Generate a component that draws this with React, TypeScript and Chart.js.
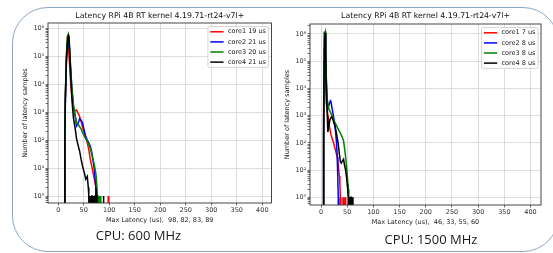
import React, { useEffect, useRef } from "react";
import { Chart, registerables } from "chart.js";

Chart.register(...registerables);

const FONT_FAMILY = "'DejaVu Sans', sans-serif";
const CHART_TITLE = "Latency RPi 4B RT kernel 4.19.71-rt24-v7l+";
const Y_TITLE = "Number of latency samples";
const X_TICKS = [0, 50, 100, 150, 200, 250, 300, 350, 400];
const SUPERSCRIPTS = ["⁰", "¹", "²", "³", "⁴", "⁵", "⁶", "⁷"];
const CORE_COLORS = ["#ff0000", "#0000ff", "#008000", "#000000"];

// ---------- CPU 600 MHz ----------
const LAT_600_CORE1 = [12, 13, 14, 16, 18, 19, 20, 22, 24, 26, 28, 30, 33, 36, 39, 42, 45, 48, 51, 54, 57, 60, 63, 66, 69, 72, 74, 75, 76, 77, 78, 79, 97, 98, 99];
const CNT_600_CORE1 = [0, 150, 3000, 80000, 400000, 350000, 220000, 60000, 15000, 5000, 2200, 1300, 1100, 1200, 900, 700, 450, 280, 180, 130, 80, 45, 20, 11, 6, 3, 2, 1, 1, 0, 1, 0, 0, 1, 0];

const LAT_600_CORE2 = [12, 13, 14, 16, 18, 20, 21, 22, 24, 26, 28, 30, 33, 36, 39, 42, 45, 48, 51, 54, 57, 60, 63, 66, 69, 71, 73, 74, 75, 76, 81, 82, 83];
const CNT_600_CORE2 = [0, 100, 2000, 50000, 200000, 300000, 300000, 200000, 50000, 12000, 4000, 1500, 800, 320, 400, 580, 520, 400, 220, 130, 100, 80, 60, 35, 15, 8, 3, 2, 1, 0, 0, 1, 0];

const LAT_600_CORE3 = [12, 13, 14, 16, 18, 20, 22, 24, 26, 28, 30, 33, 36, 39, 42, 45, 48, 51, 54, 57, 60, 63, 66, 69, 72, 74, 76, 77, 78, 79, 82, 83, 84];
const CNT_600_CORE3 = [0, 120, 4000, 100000, 500000, 620000, 250000, 50000, 12000, 4000, 1800, 800, 420, 360, 300, 250, 180, 140, 110, 90, 70, 50, 30, 18, 10, 6, 2, 1, 1, 0, 0, 1, 0];

const LAT_600_CORE4 = [12, 13, 14, 16, 18, 20, 21, 22, 24, 26, 28, 30, 33, 36, 39, 42, 45, 48, 51, 54, 57, 59, 60, 61, 62, 63, 64, 65, 66, 67, 68, 69, 70, 71, 72, 73, 74, 75, 76, 88, 89, 90];
const CNT_600_CORE4 = [0, 100, 3000, 80000, 300000, 550000, 500000, 250000, 30000, 6000, 1500, 600, 280, 110, 65, 40, 20, 11, 7, 4, 5, 2, 1, 0, 1, 0, 1, 0, 1, 1, 0, 0, 1, 0, 1, 1, 2, 1, 0, 0, 1, 0];

const LEGEND_600 = ["core1 19 us", "core2 21 us", "core3 20 us", "core4 21 us"];
const XLABEL_600 = "Max Latency (us),  98, 82, 83, 89";

// ---------- CPU 1500 MHz ----------
const LAT_1500_CORE1 = [4, 5, 6, 7, 8, 9, 10, 12, 14, 16, 19, 22, 25, 28, 31, 33, 35, 36, 37, 38, 41, 42, 43, 45, 46, 47];
const CNT_1500_CORE1 = [0, 1000, 1200000, 800000, 200000, 20000, 3000, 1500, 800, 400, 200, 130, 85, 50, 30, 15, 6, 3, 1, 0, 0, 1, 0, 0, 1, 0];

const LAT_1500_CORE2 = [4, 5, 6, 7, 8, 9, 10, 12, 14, 16, 18, 19, 20, 22, 24, 26, 28, 30, 31, 32, 33, 34];
const CNT_1500_CORE2 = [0, 500, 300000, 800000, 1000000, 200000, 20000, 3000, 2000, 2800, 3500, 3300, 2500, 1500, 900, 500, 230, 80, 30, 6, 1, 0];

const LAT_1500_CORE3 = [4, 5, 6, 7, 8, 9, 10, 12, 14, 16, 20, 24, 28, 32, 36, 40, 43, 46, 48, 50, 52, 53, 54, 55, 56];
const CNT_1500_CORE3 = [0, 200, 200000, 900000, 1300000, 300000, 30000, 4000, 2000, 1600, 1100, 700, 500, 350, 250, 170, 120, 45, 20, 7, 2, 1, 0, 1, 0];

const LAT_1500_CORE4 = [4, 5, 6, 7, 8, 9, 10, 12, 13, 15, 17, 20, 22, 24, 27, 30, 33, 35, 37, 39, 41, 43, 45, 47, 49, 50, 51, 52, 53, 54, 55, 56, 57, 58, 59, 60, 61];
const CNT_1500_CORE4 = [0, 100, 100000, 600000, 1100000, 200000, 10000, 1000, 250, 400, 700, 900, 800, 600, 400, 200, 90, 40, 20, 18, 22, 25, 15, 10, 5, 3, 2, 1, 1, 0, 1, 0, 1, 1, 0, 1, 0];

const LEGEND_1500 = ["core1 7 us", "core2 8 us", "core3 8 us", "core4 8 us"];
const XLABEL_1500 = "Max Latency (us),  46, 33, 55, 60";

type Panel = {
  lats: number[][];
  cnts: number[][];
  legend: string[];
  xLabel: string;
  left: number;
  width: number;
  height: number;
  areaLeft: number;
  areaRight: number;
  areaTop: number;
  areaBottom: number;
  xMin: number;
  xMax: number;
  yMin: number;
  yMax: number;
  yTitlePad: number;
  xTitlePad: number;
};

const PANEL_600: Panel = {
  lats: [LAT_600_CORE1, LAT_600_CORE2, LAT_600_CORE3, LAT_600_CORE4],
  cnts: [CNT_600_CORE1, CNT_600_CORE2, CNT_600_CORE3, CNT_600_CORE4],
  legend: LEGEND_600,
  xLabel: XLABEL_600,
  left: 0,
  width: 280,
  height: 234,
  areaLeft: 48,
  areaRight: 271.5,
  areaTop: 23,
  areaBottom: 203,
  xMin: -20,
  xMax: 418,
  yMin: 0.562,
  yMax: 1.55e6,
  yTitlePad: 21,
  xTitlePad: 10,
};

const PANEL_1500: Panel = {
  lats: [LAT_1500_CORE1, LAT_1500_CORE2, LAT_1500_CORE3, LAT_1500_CORE4],
  cnts: [CNT_1500_CORE1, CNT_1500_CORE2, CNT_1500_CORE3, CNT_1500_CORE4],
  legend: LEGEND_1500,
  xLabel: XLABEL_1500,
  left: 280,
  width: 273,
  height: 234,
  areaLeft: 30,
  areaRight: 261,
  areaTop: 24,
  areaBottom: 205,
  xMin: -21,
  xMax: 420,
  yMin: 0.521,
  yMax: 2.33e6,
  yTitlePad: 3,
  xTitlePad: 8,
};

const LABEL_SIZE = 6.5;
const TITLE_SIZE = 7.8;

const isDecade = (v: number) => {
  if (!(v > 0)) return false;
  const l = Math.log10(v);
  return Math.abs(l - Math.round(l)) < 1e-9;
};

const logTickValues = (min: number, max: number) => {
  const out: number[] = [];
  for (let e = -1; e <= 7; e++) {
    for (let m = 1; m < 10; m++) {
      const v = m * Math.pow(10, e);
      if (v >= min && v <= max) out.push(v);
    }
  }
  return out;
};

function buildConfig(p: Panel): any {
  const tickFont = { family: FONT_FAMILY, size: LABEL_SIZE };
  const decor = {
    id: "decor",
    afterDatasetsDraw(chart: any) {
      const { ctx, chartArea: a } = chart;
      ctx.save();
      // axes frame
      ctx.strokeStyle = "#333333";
      ctx.lineWidth = 0.9;
      ctx.strokeRect(a.left, a.top, a.right - a.left, a.bottom - a.top);
      // legend
      ctx.font = `${LABEL_SIZE}px ${FONT_FAMILY}`;
      let maxW = 0;
      p.legend.forEach((t) => (maxW = Math.max(maxW, ctx.measureText(t).width)));
      const boxW = 20 + maxW + 2.5;
      const rowH = 10.1;
      const boxH = 5.3 * 2 + rowH * 3;
      const boxRight = a.right - 3;
      const boxLeft = boxRight - boxW;
      const boxTop = a.top + 3.5;
      ctx.beginPath();
      ctx.roundRect(boxLeft, boxTop, boxW, boxH, 1.5);
      ctx.fillStyle = "rgba(255,255,255,0.85)";
      ctx.fill();
      ctx.strokeStyle = "#cccccc";
      ctx.lineWidth = 0.8;
      ctx.stroke();
      p.legend.forEach((t, i) => {
        const y = boxTop + 5.3 + i * rowH;
        ctx.beginPath();
        ctx.moveTo(boxLeft + 2.4, y);
        ctx.lineTo(boxLeft + 15.7, y);
        ctx.strokeStyle = CORE_COLORS[i];
        ctx.lineWidth = 1.5;
        ctx.stroke();
        ctx.fillStyle = "#222222";
        ctx.textAlign = "left";
        ctx.textBaseline = "middle";
        ctx.fillText(t, boxLeft + 20, y);
      });
      // title
      ctx.font = `${TITLE_SIZE}px ${FONT_FAMILY}`;
      ctx.fillStyle = "#111111";
      ctx.textAlign = "center";
      ctx.textBaseline = "middle";
      ctx.fillText(CHART_TITLE, (a.left + a.right) / 2, 15.7);
      ctx.restore();
    },
  };

  return {
    type: "line",
    data: {
      datasets: p.lats.map((lat, i) => ({
        label: p.legend[i],
        data: lat.map((x, j) => ({ x, y: p.cnts[i][j] > 0 ? p.cnts[i][j] : 1e-9 })),
        borderColor: CORE_COLORS[i],
        backgroundColor: CORE_COLORS[i],
        borderWidth: 1.5,
        pointRadius: 0,
        tension: 0,
        fill: false,
        order: 4 - i,
      })),
    },
    options: {
      animation: false,
      responsive: false,
      maintainAspectRatio: false,
      devicePixelRatio: 1,
      layout: { padding: { left: 0, top: p.areaTop, right: p.width - p.areaRight, bottom: 0 } },
      plugins: {
        legend: { display: false },
        tooltip: { enabled: false },
        title: { display: false },
      },
      scales: {
        x: {
          type: "linear",
          min: p.xMin,
          max: p.xMax,
          afterBuildTicks: (s: any) => {
            s.ticks = X_TICKS.map((v) => ({ value: v }));
          },
          afterFit: (s: any) => {
            s.height = p.height - p.areaBottom;
          },
          ticks: {
            font: tickFont,
            color: "#333333",
            padding: 1.2,
            maxRotation: 0,
            autoSkip: false,
            callback: (v: any) => String(v),
          },
          grid: { color: "#d4d4d4", lineWidth: 0.8, tickLength: 2.5, tickColor: "#444444" },
          border: { display: false },
          title: {
            display: true,
            text: p.xLabel,
            font: tickFont,
            color: "#222222",
            padding: { top: 0, bottom: p.xTitlePad },
          },
        },
        y: {
          type: "logarithmic",
          min: p.yMin,
          max: p.yMax,
          afterBuildTicks: (s: any) => {
            s.ticks = logTickValues(p.yMin, p.yMax).map((v) => ({ value: v, major: isDecade(v) }));
          },
          afterFit: (s: any) => {
            s.width = p.areaLeft;
          },
          ticks: {
            font: tickFont,
            color: "#333333",
            padding: 1.2,
            autoSkip: false,
            callback: (v: any) => (isDecade(v) ? "10" + SUPERSCRIPTS[Math.round(Math.log10(v))] : ""),
          },
          grid: {
            color: (c: any) => (c.tick && isDecade(c.tick.value) ? "#d4d4d4" : "rgba(0,0,0,0)"),
            lineWidth: 0.8,
            tickLength: 2.5,
            tickColor: "#555555",
          },
          border: { display: false },
          title: {
            display: true,
            text: Y_TITLE,
            font: tickFont,
            color: "#222222",
            padding: { top: p.yTitlePad, bottom: 0 },
          },
        },
      },
    },
    plugins: [decor],
  };
}

function ChartPanel({ panel }: { panel: Panel }) {
  const ref = useRef<HTMLCanvasElement>(null);
  useEffect(() => {
    const chart = new Chart(ref.current as HTMLCanvasElement, buildConfig(panel));
    return () => chart.destroy();
  }, [panel]);
  return (
    <canvas
      ref={ref}
      width={panel.width}
      height={panel.height}
      style={{ position: "absolute", left: panel.left, top: 0, width: panel.width, height: panel.height }}
    />
  );
}

const cpuStyle: React.CSSProperties = {
  position: "absolute",
  transform: "translate(-50%, -50%)",
  fontFamily: "'Open Sans', sans-serif",
  fontSize: 13,
  color: "#1a1a1a",
  whiteSpace: "nowrap",
  lineHeight: 1,
};

export default function App() {
  return (
    <div
      style={{
        position: "fixed",
        left: 0,
        top: 0,
        width: 553,
        height: 253,
        background: "#ffffff",
        overflow: "hidden",
      }}
    >
      <div
        style={{
          position: "absolute",
          left: 12,
          top: 7,
          width: 547,
          height: 245,
          border: "1.3px solid #8aa7c8",
          borderRadius: 36,
          boxSizing: "border-box",
        }}
      />
      <ChartPanel panel={PANEL_600} />
      <ChartPanel panel={PANEL_1500} />
      <div style={{ ...cpuStyle, left: 138.5, top: 235 }}>CPU: 600 MHz</div>
      <div style={{ ...cpuStyle, left: 431, top: 239 }}>CPU: 1500 MHz</div>
    </div>
  );
}
